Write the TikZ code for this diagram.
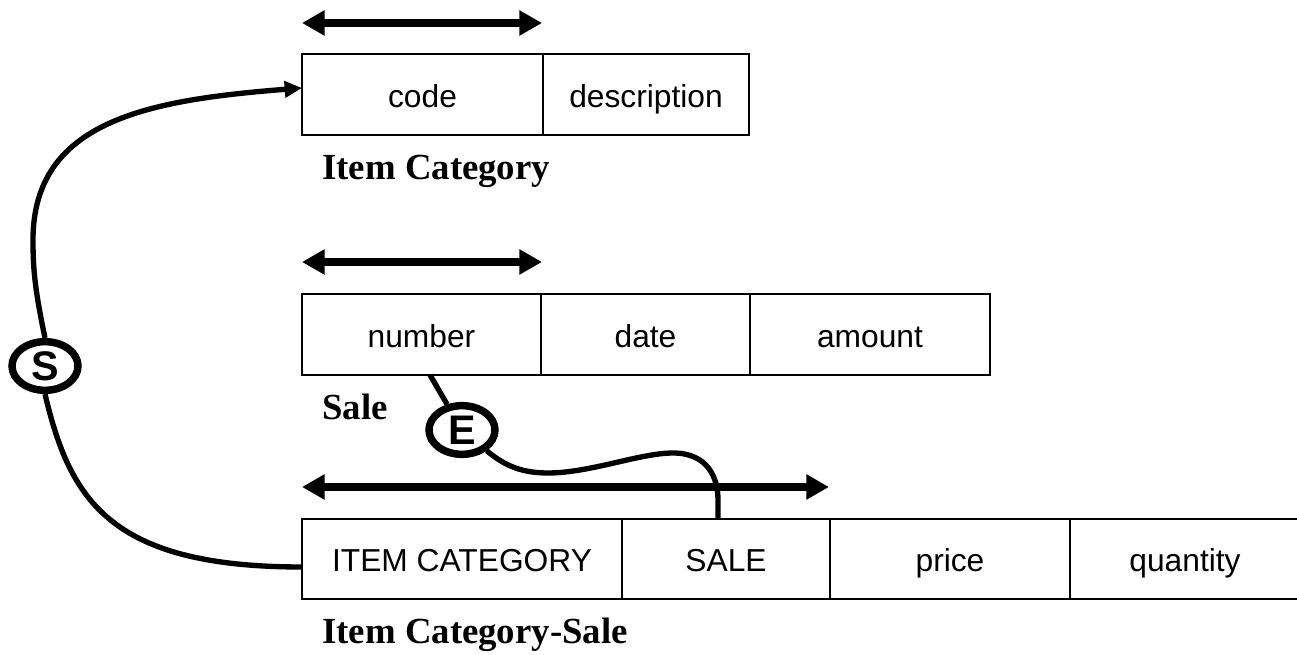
\documentclass[tikz,border=0pt]{standalone}
\usepackage{fontspec}
\setmainfont{Liberation Serif}
\setsansfont{Liberation Sans}
\usetikzlibrary{arrows.meta,shapes.geometric}
\begin{document}
\begin{tikzpicture}[x=0.75pt,y=-0.75pt,
  cell/.style={draw,line width=2.1pt,minimum height=60.75pt,inner sep=0pt,outer sep=0pt,
    text height=20pt,text depth=0.5pt,font=\sffamily\fontsize{23.8}{28}\selectfont},
  title/.style={anchor=base west,inner sep=0pt,font=\bfseries\fontsize{27.6}{32}\selectfont},
  keyarrow/.style={line width=5.4pt,{Triangle[length=17pt,width=18pt]}-{Triangle[length=17pt,width=18pt]}},
  conn/.style={line width=4pt},
  tag/.style={draw,fill=white,ellipse,line width=5.6pt,minimum width=49.5pt,minimum height=36.5pt,
    inner sep=0pt,font=\sffamily\bfseries\fontsize{31}{34}\selectfont}
]
\fill[white] (0,0) rectangle (1297,655);
\useasboundingbox (0,0) rectangle (1297,655);

% Item Category
\node[cell,minimum width=180.75pt] (code) at (422.5,94.5) {code};
\node[cell,minimum width=154.5pt] (desc) at (646,94.5) {description};
\node[title] (t1) at (322,180) {Item Category};
\coordinate (k1a) at (302,23);
\coordinate (k1b) at (542,23);
\draw[keyarrow] (k1a) -- (k1b);

% Sale
\node[cell,minimum width=179.25pt] (num) at (421.5,334.5) {number};
\node[cell,minimum width=156.75pt] (date) at (645.5,334.5) {date};
\node[cell,minimum width=180pt] (amt) at (870,334.5) {amount};
\node[title] (t2) at (322,420) {Sale};
\coordinate (k2a) at (302,262);
\coordinate (k2b) at (542,262);
\draw[keyarrow] (k2a) -- (k2b);

% Item Category-Sale
\node[cell,minimum width=240pt,minimum height=60pt] (ic) at (462,559) {ITEM CATEGORY};
\node[cell,minimum width=156pt,minimum height=60pt] (sale2) at (726,559) {SALE};
\node[cell,minimum width=180pt,minimum height=60pt] (price) at (950,559) {price};
\node[cell,draw=none,minimum width=172.5pt,minimum height=60pt] (qty) at (1185,559) {quantity};
\draw[line width=2.1pt] (qty.north west) -- (qty.north east);
\draw[line width=2.1pt] (qty.south west) -- (qty.south east);
\node[title] (t3) at (322,644) {Item Category-Sale};
\coordinate (k3a) at (302,487);
\coordinate (k3b) at (829,487);
\draw[keyarrow] (k3a) -- (k3b);

% S connector
\node[tag] (S) at (45,366) {S};
\draw[conn,-{Triangle[length=13pt,width=12pt]}] (S.north) .. controls (35,290) and (33,270) .. (33,240)
  .. controls (33,120) and (150,100) .. ([yshift=4.9pt]code.west);
\draw[conn] (S.south) .. controls (70,500) and (110,567) .. ([yshift=-6pt]ic.west);

% E connector
\node[tag] (E) at (462,430) {E};
\draw[conn] ([xshift=6.4pt]num.south) -- (E);
\draw[conn] (E.-40) .. controls (505,466) and (522,473) .. (548,473)
  .. controls (590,473) and (640,453) .. (673,453)
  .. controls (708,453) and (718,478) .. (718,500) -- ([xshift=-6pt]sale2.north);
\end{tikzpicture}
\end{document}
